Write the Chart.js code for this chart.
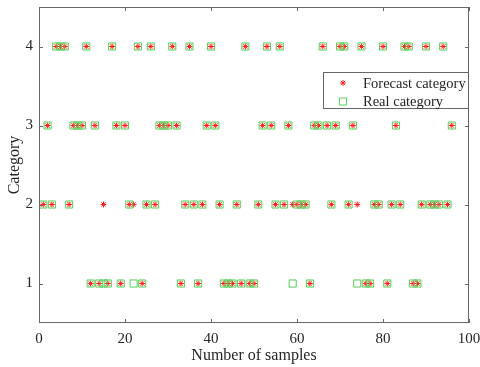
<!DOCTYPE html>
<html>
<head>
<meta charset="utf-8">
<script src="https://cdn.jsdelivr.net/npm/chart.js@4/dist/chart.umd.min.js"></script>
<style>
  body { margin: 0; background: #fff; }
  canvas { display: block; }
</style>
</head>
<body>
<canvas id="catChart" width="480" height="367"></canvas>
<script>
// sample index 1..96
const samples = [
   1,  2,  3,  4,  5,  6,  7,  8,  9, 10, 11, 12, 13, 14, 15, 16,
  17, 18, 19, 20, 21, 22, 23, 24, 25, 26, 27, 28, 29, 30, 31, 32,
  33, 34, 35, 36, 37, 38, 39, 40, 41, 42, 43, 44, 45, 46, 47, 48,
  49, 50, 51, 52, 53, 54, 55, 56, 57, 58, 59, 60, 61, 62, 63, 64,
  65, 66, 67, 68, 69, 70, 71, 72, 73, 74, 75, 76, 77, 78, 79, 80,
  81, 82, 83, 84, 85, 86, 87, 88, 89, 90, 91, 92, 93, 94, 95, 96
];
const realCategory = [
  2, 3, 2, 4, 4, 4, 2, 3, 3, 3, 4, 1, 3, 1, 1, 1,
  4, 3, 1, 3, 2, 1, 4, 1, 2, 4, 2, 3, 3, 3, 4, 3,
  1, 2, 4, 2, 1, 2, 3, 4, 3, 2, 1, 1, 1, 2, 1, 4,
  1, 1, 2, 3, 4, 3, 2, 4, 2, 3, 1, 2, 2, 2, 1, 3,
  3, 4, 3, 2, 3, 4, 4, 2, 3, 1, 4, 1, 1, 2, 2, 4,
  1, 2, 3, 2, 4, 4, 1, 1, 2, 4, 2, 2, 2, 4, 2, 3
];
const forecastCategory = [
  2, 3, 2, 4, 4, 4, 2, 3, 3, 3, 4, 1, 3, 1, 2, 1,
  4, 3, 1, 3, 2, 2, 4, 1, 2, 4, 2, 3, 3, 3, 4, 3,
  1, 2, 4, 2, 1, 2, 3, 4, 3, 2, 1, 1, 1, 2, 1, 4,
  1, 1, 2, 3, 4, 3, 2, 4, 2, 3, 2, 2, 2, 2, 1, 3,
  3, 4, 3, 2, 3, 4, 4, 2, 3, 2, 4, 1, 1, 2, 2, 4,
  1, 2, 3, 2, 4, 4, 1, 1, 2, 4, 2, 2, 2, 4, 2, 3
];
const xTicks = [0, 20, 40, 60, 80, 100];
const yTicks = [1, 2, 3, 4];

const serif = "'Liberation Serif', 'DejaVu Serif', serif";
const textColor = "#262626";
const axisColor = "#666666";

// box round the plot, with ticks pointing inwards on all four sides
const boxPlugin = {
  id: "box",
  afterDraw(chart) {
    const { ctx, chartArea: a, scales } = chart;
    const len = 4;
    ctx.save();
    ctx.strokeStyle = axisColor;
    ctx.lineWidth = 1;
    ctx.strokeRect(a.left + 0.5, a.top + 0.5, a.right - a.left - 1, a.bottom - a.top - 1);
    ctx.beginPath();
    xTicks.forEach(v => {
      const px = Math.round(scales.x.getPixelForValue(v)) + 0.5;
      ctx.moveTo(px, a.bottom); ctx.lineTo(px, a.bottom - len);
      ctx.moveTo(px, a.top); ctx.lineTo(px, a.top + len);
    });
    yTicks.forEach(v => {
      const py = Math.round(scales.y.getPixelForValue(v)) + 0.5;
      ctx.moveTo(a.left, py); ctx.lineTo(a.left + len, py);
      ctx.moveTo(a.right, py); ctx.lineTo(a.right - len, py);
    });
    ctx.stroke();
    ctx.restore();
  }
};

// legend drawn inside the plot, top right
const legendPlugin = {
  id: "innerLegend",
  afterDraw(chart) {
    const { ctx, chartArea: a } = chart;
    const w = 146, h = 37;
    const x0 = a.right - w, y0 = 72;
    ctx.save();
    ctx.fillStyle = "#fff";
    ctx.fillRect(x0, y0, w, h);
    ctx.strokeStyle = axisColor;
    ctx.lineWidth = 1;
    ctx.strokeRect(x0 + 0.5, y0 + 0.5, w - 1, h - 1);
    const items = [chart.data.datasets[1], chart.data.datasets[0]];
    items.forEach((ds, i) => {
      const cy = y0 + 11 + i * 18.5;
      ctx.strokeStyle = ds.borderColor;
      ctx.fillStyle = "rgba(0,0,0,0)";
      ctx.lineWidth = ds.borderWidth;
      Chart.helpers.drawPoint(ctx, { pointStyle: ds.pointStyle, radius: ds.pointRadius, rotation: 0, borderWidth: ds.borderWidth }, x0 + 20, cy);
      ctx.fillStyle = textColor;
      ctx.font = "14.5px " + serif;
      ctx.textBaseline = "middle";
      ctx.fillText(ds.label, x0 + 40, cy + 1);
    });
    ctx.restore();
  }
};

new Chart(document.getElementById("catChart").getContext("2d"), {
  type: "scatter",
  data: {
    datasets: [
      {
        label: "Real category",
        data: samples.map((s, i) => ({ x: s, y: realCategory[i] })),
        pointStyle: "rect",
        pointRadius: 5,
        borderColor: "#55d055",
        backgroundColor: "rgba(0,0,0,0)",
        borderWidth: 1
      },
      {
        label: "Forecast category",
        data: samples.map((s, i) => ({ x: s, y: forecastCategory[i] })),
        pointStyle: "star",
        pointRadius: 3,
        borderColor: "#ff2020",
        backgroundColor: "#ff2020",
        borderWidth: 1
      }
    ]
  },
  options: {
    responsive: false,
    animation: false,
    devicePixelRatio: 1,
    layout: { padding: { top: 7, right: 11, left: 0, bottom: 0 } },
    plugins: { legend: { display: false }, tooltip: { enabled: false } },
    scales: {
      x: {
        type: "linear",
        min: 0,
        max: 100,
        grid: { display: false, drawTicks: false },
        border: { display: false },
        afterBuildTicks: s => { s.ticks = xTicks.map(v => ({ value: v })); },
        afterFit: s => { s.height = 44; s.paddingLeft = 0; s.paddingRight = 0; },
        ticks: { color: textColor, font: { family: serif, size: 15 }, padding: 7, maxRotation: 0 },
        title: { display: true, text: "Number of samples", color: textColor, font: { family: serif, size: 16 }, padding: { top: 0, bottom: 2 } }
      },
      y: {
        type: "linear",
        min: 0.5,
        max: 4.5,
        grid: { display: false, drawTicks: false },
        border: { display: false },
        afterBuildTicks: s => { s.ticks = yTicks.map(v => ({ value: v })); },
        afterFit: s => { s.width = 39; s.paddingTop = 0; s.paddingBottom = 0; },
        ticks: { color: textColor, font: { family: serif, size: 15 }, padding: 6 },
        title: { display: true, text: "Category", color: textColor, font: { family: serif, size: 16 }, padding: { top: 5, bottom: 0 } }
      }
    }
  },
  plugins: [boxPlugin, legendPlugin]
});
</script>
</body>
</html>
